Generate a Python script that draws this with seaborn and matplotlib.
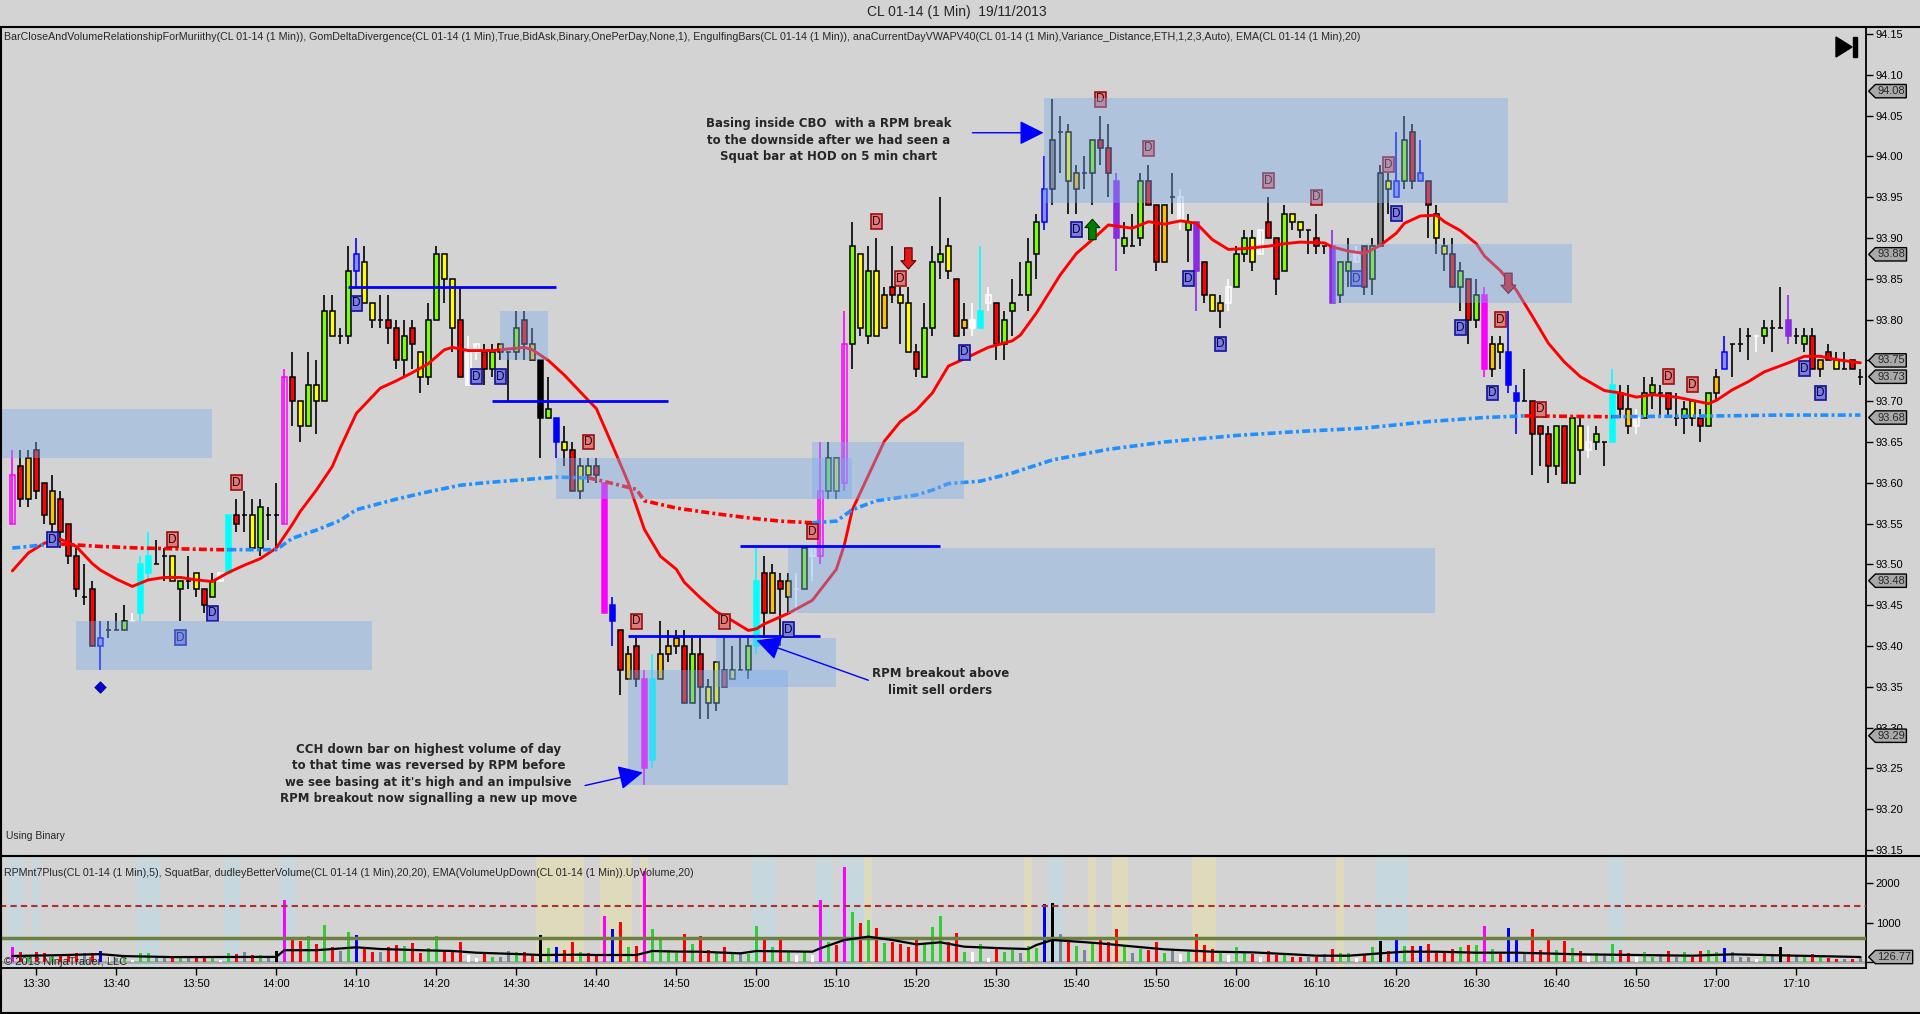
import numpy as np
import pandas as pd
import matplotlib
matplotlib.use("Agg")
import matplotlib.pyplot as plt
import matplotlib.transforms as mtransforms
from matplotlib.path import Path
from matplotlib.patches import Polygon, Rectangle
from matplotlib.lines import Line2D
import seaborn as sns

# one bar per minute, first bar 13:27, last bar 17:18
# prices are cents above 93.00
opens = [55, 62, 58, 64, 60, 55, 58, 55, 51, 46,
         47, 40, 42, 42, 42, 43, 44, 49, 50, 51,
         51, 47, 48, 49, 47, 46, 48, 49, 56, 56,
         56, 52, 56, 56, 55, 73, 70, 67, 72, 70,
         81, 78, 78, 86, 87, 82, 80, 80, 79, 75,
         79, 76, 73, 80, 88, 85, 80, 72, 76, 76,
         74, 76, 76, 76, 80, 77, 75, 68, 68, 65,
         64, 59, 62, 62, 60, 45, 42, 36, 40, 36,
         26, 36, 39, 40, 40, 33, 39, 33, 33, 37,
         36, 37, 37, 40, 49, 44, 48, 46, 47, 47,
         51, 51, 59, 63, 60, 77, 88, 78, 86, 79,
         84, 83, 82, 76, 73, 79, 87, 89, 85, 79,
         80, 79, 82, 82, 77, 81, 83, 83, 88, 92,
         96, 103, 103, 96, 98, 98, 102, 101, 97, 89,
         89, 90, 97, 94, 87, 95, 92, 91, 92, 87,
         83, 81, 82, 84, 88, 90, 88, 92, 90, 86,
         93, 92, 91, 90, 89, 89, 83, 86, 87, 89,
         85, 89, 96, 95, 97, 103, 97, 97, 93, 89,
         88, 84, 85, 80, 83, 74, 77, 76, 71, 70,
         70, 67, 66, 62, 67, 60, 67, 64, 65, 65,
         65, 71, 69, 67, 68, 71, 71, 71, 68, 68,
         70, 68, 67, 71, 74, 77, 77, 78, 78, 78,
         79, 79, 80, 78, 77, 78, 74, 76, 75, 74,
         75, 73]
highs = [64, 64, 64, 65, 60, 61, 59, 55, 52, 50,
         48, 43, 43, 44, 45, 44, 51, 54, 53, 52,
         51, 48, 51, 49, 47, 49, 49, 56, 58, 59,
         58, 58, 57, 60, 74, 76, 70, 76, 75, 83,
         83, 79, 89, 90, 89, 82, 83, 83, 80, 80,
         80, 76, 82, 89, 88, 85, 84, 78, 77, 77,
         77, 77, 76, 81, 81, 79, 75, 73, 68, 67,
         65, 63, 63, 63, 60, 46, 42, 40, 41, 37,
         39, 43, 42, 42, 42, 41, 41, 36, 38, 41,
         40, 41, 41, 52, 51, 50, 49, 49, 49, 52,
         52, 65, 65, 63, 81, 92, 88, 89, 90, 84,
         89, 84, 84, 77, 82, 89, 95, 90, 85, 82,
         82, 89, 84, 82, 81, 85, 87, 90, 93, 100,
         107, 105, 104, 99, 100, 102, 105, 104, 98, 92,
         93, 98, 99, 94, 94, 98, 96, 93, 92, 87,
         83, 83, 85, 89, 91, 91, 91, 95, 90, 94,
         93, 92, 91, 93, 89, 91, 87, 90, 89, 89,
         90, 99, 98, 103, 105, 104, 102, 97, 94, 90,
         90, 87, 85, 85, 84, 78, 78, 81, 72, 74,
         70, 67, 67, 67, 67, 68, 68, 67, 67, 65,
         74, 72, 72, 69, 73, 73, 72, 71, 71, 70,
         70, 69, 71, 74, 78, 77, 79, 79, 78, 80,
         80, 84, 83, 79, 79, 79, 75, 77, 76, 76,
         75, 74]
lows = [55, 57, 57, 58, 55, 54, 52, 50, 46, 45,
        40, 37, 41, 42, 42, 43, 43, 48, 50, 48,
        48, 43, 47, 46, 44, 46, 48, 49, 54, 54,
        52, 51, 53, 52, 55, 67, 65, 67, 66, 70,
        78, 77, 77, 84, 82, 79, 79, 77, 74, 73,
        74, 71, 72, 80, 82, 76, 73, 72, 75, 72,
        73, 75, 70, 75, 75, 75, 63, 68, 63, 62,
        59, 58, 60, 60, 44, 40, 34, 36, 35, 23,
        25, 36, 38, 39, 33, 33, 31, 31, 32, 35,
        36, 37, 36, 39, 41, 44, 40, 44, 44, 47,
        48, 50, 58, 58, 59, 74, 78, 77, 78, 79,
        82, 77, 76, 73, 73, 78, 85, 85, 78, 78,
        78, 79, 81, 75, 75, 78, 83, 81, 85, 91,
        94, 98, 93, 93, 96, 94, 99, 95, 86, 88,
        89, 89, 94, 86, 87, 93, 91, 87, 81, 82,
        81, 79, 81, 84, 87, 86, 88, 90, 83, 86,
        91, 90, 88, 88, 88, 82, 82, 84, 87, 83,
        83, 89, 93, 95, 96, 96, 97, 90, 88, 86,
        84, 81, 77, 79, 73, 73, 74, 71, 66, 70,
        61, 62, 60, 61, 60, 60, 61, 63, 64, 62,
        65, 68, 66, 66, 68, 69, 68, 68, 67, 66,
        67, 65, 67, 70, 74, 73, 76, 75, 76, 77,
        76, 79, 77, 77, 76, 74, 73, 75, 74, 74,
        74, 72]
closes = [61, 58, 63, 59, 56, 59, 54, 51, 47, 46,
          40, 41, 42, 42, 43, 43, 50, 51, 50, 51,
          48, 48, 48, 47, 45, 48, 49, 56, 55, 56,
          52, 57, 56, 56, 73, 70, 67, 72, 70, 81,
          78, 78, 86, 88, 82, 80, 80, 79, 75, 78,
          77, 73, 80, 88, 85, 79, 73, 76, 77, 74,
          76, 77, 76, 79, 77, 75, 68, 69, 65, 64,
          59, 62, 61, 61, 44, 43, 37, 39, 36, 25,
          36, 39, 40, 41, 33, 39, 35, 35, 38, 35,
          37, 37, 40, 48, 44, 49, 47, 48, 47, 52,
          52, 59, 63, 59, 77, 89, 79, 86, 78, 83,
          83, 82, 76, 74, 79, 87, 88, 86, 78, 80,
          79, 81, 83, 77, 80, 82, 83, 87, 92, 96,
          102, 103, 97, 98, 98, 102, 101, 98, 90, 90,
          89, 97, 94, 87, 94, 95, 95, 92, 86, 83,
          81, 82, 84, 88, 90, 87, 91, 90, 85, 93,
          92, 91, 91, 89, 89, 82, 87, 87, 88, 84,
          89, 98, 97, 97, 102, 97, 98, 94, 90, 88,
          84, 86, 80, 83, 74, 77, 76, 72, 70, 70,
          66, 66, 62, 67, 60, 68, 64, 65, 66, 65,
          72, 69, 67, 68, 71, 72, 71, 69, 68, 69,
          68, 67, 71, 73, 76, 77, 77, 78, 78, 79,
          79, 79, 78, 78, 78, 74, 75, 75, 74, 74,
          74, 73]
candle_colors = ("Mrgrrgrrrk" "rBkklwaakk" "ylkyrlwark" "ylkkMrylyl"
                 "yklByykrrl" "ryllyyrwwr" "lgklrgklby" "ryyrmbrgrm"
                 "agggrlryyr" "yklargrgwl" "wMlyMlylyg" "ryyrlllyrg"
                 "wawrllkllB" "ekygklrrpl" "klrrgkwlpr" "ygwllywrrl"
                 "yykrkpllwr" "leyBlrBryy" "rlrlmgybbk" "rrrlrlywlk"
                 "argwllkrkl" "yrlgBkkkwl" "kkpklrgryk" "rk")

volumes = [373, 246, 160, 246, 229, 190, 203, 203, 237, 220,
           237, 288, 120, 100, 110, 60, 220, 220, 110, 110,
           100, 160, 160, 90, 90, 120, 60, 220, 200, 250,
           170, 170, 120, 290, 1575, 576, 533, 660, 449, 940,
           373, 280, 770, 686, 347, 262, 262, 389, 432, 406,
           491, 220, 347, 660, 288, 288, 517, 178, 93, 203,
           135, 118, 288, 262, 262, 178, 686, 364, 389, 305,
           517, 262, 220, 178, 1168, 830, 1025, 389, 406, 2300,
           838, 584, 305, 220, 711, 457, 660, 305, 245, 381,
           195, 245, 195, 915, 643, 381, 584, 262, 178, 279,
           178, 1575, 500, 432, 2405, 1261, 982, 1067, 864, 483,
           500, 449, 381, 559, 474, 897, 1168, 517, 728, 254,
           254, 449, 110, 347, 254, 305, 237, 406, 364, 1465,
           1490, 711, 584, 406, 305, 500, 584, 500, 838, 415,
           220, 330, 305, 500, 220, 279, 195, 262, 711, 432,
           322, 262, 178, 381, 262, 212, 135, 279, 178, 178,
           135, 118, 135, 118, 195, 330, 220, 220, 93, 203,
           373, 533, 279, 559, 406, 406, 406, 457, 279, 246,
           330, 373, 432, 432, 915, 330, 203, 855, 576, 246,
           830, 305, 576, 305, 533, 347, 279, 152, 220, 152,
           449, 305, 220, 118, 246, 135, 195, 279, 135, 246,
           135, 279, 305, 246, 347, 246, 135, 135, 68, 152,
           195, 373, 203, 178, 135, 203, 118, 110, 76, 76,
           76, 135]
volume_colors = ("mrgrrgrrre" "rbwegwggee" "rgerrgwgre" "rgekmrrgrg"
                 "regbrrerrg" "rrggrrrwwr" "geegrrkgbr" "rgrrmbrgrm"
                 "ggggrgrrgr" "geggrgrgwg" "wmgrmgrgrg" "rrrrgggrrg"
                 "wgwrggeggb" "kergegrrrg" "egrrgewgrr" "rgwggrwrrg"
                 "rrererggwr" "gkrbgrbrrr" "rgrgmgrbbe" "rrrgrgrwge"
                 "grrwggereg" "rrggbeeewg" "ekregrgrre" "re")

# EMA(20) of close, read at bar index
ema_k = [0, 2, 4, 6, 8, 10, 11, 13, 15, 17, 19, 21, 23, 25, 27, 29, 31, 33, 35, 36,
         38, 40, 41, 43, 46, 48, 50, 52, 54, 55, 57, 60, 62, 64, 65, 67, 69, 72, 73, 75,
         77, 79, 81, 83, 84, 86, 88, 90, 92, 93, 94, 97, 100, 103, 104, 105, 107, 109, 111, 113,
         115, 117, 119, 122, 125, 126, 128, 131, 133, 135, 137, 140, 142, 144, 146, 148, 150, 152, 154, 157,
         159, 161, 164, 165, 167, 169, 171, 173, 174, 176, 178, 179, 181, 183, 184, 186, 188, 190, 192, 194,
         196, 199, 201, 203, 205, 208, 210, 212, 213, 215, 217, 219, 222, 224, 226, 228, 231]
ema_v = [93.492, 93.514, 93.526, 93.531, 93.522, 93.501, 93.493, 93.482, 93.473, 93.481,
         93.484, 93.484, 93.481, 93.479, 93.490, 93.499, 93.507, 93.520, 93.549, 93.565,
         93.591, 93.620, 93.643, 93.685, 93.716, 93.725, 93.735, 93.746, 93.763, 93.766,
         93.762, 93.762, 93.764, 93.766, 93.763, 93.750, 93.732, 93.701, 93.691, 93.646,
         93.600, 93.543, 93.510, 93.494, 93.478, 93.459, 93.442, 93.431, 93.419, 93.421,
         93.427, 93.440, 93.456, 93.494, 93.524, 93.567, 93.609, 93.651, 93.675, 93.689,
         93.710, 93.743, 93.752, 93.766, 93.774, 93.781, 93.808, 93.855, 93.881, 93.898,
         93.916, 93.912, 93.920, 93.917, 93.921, 93.918, 93.898, 93.886, 93.887, 93.890,
         93.893, 93.895, 93.894, 93.889, 93.884, 93.881, 93.891, 93.906, 93.918, 93.927,
         93.928, 93.920, 93.909, 93.893, 93.878, 93.860, 93.836, 93.804, 93.771, 93.748,
         93.730, 93.713, 93.710, 93.705, 93.708, 93.705, 93.701, 93.697, 93.701, 93.714,
         93.724, 93.736, 93.747, 93.755, 93.755, 93.751, 93.747]

# session VWAP, read at bar index; colour switches at vwap_breaks
vwap_k = [0, 5, 6, 11, 16, 26, 27, 33, 35, 38, 41, 43, 48, 52, 56, 59, 68, 72, 73, 78,
          79, 83, 88, 92, 96, 100, 103, 105, 108, 113, 115, 117, 121, 125, 130, 137, 144, 153, 161, 169,
          177, 184, 189, 199, 200, 214, 221, 231]
vwap_v = [93.520, 93.525, 93.525, 93.522, 93.520, 93.518, 93.518, 93.518, 93.532, 93.542,
          93.554, 93.567, 93.580, 93.589, 93.597, 93.600, 93.607, 93.606, 93.604, 93.592,
          93.578, 93.569, 93.562, 93.557, 93.553, 93.551, 93.553, 93.567, 93.578, 93.585,
          93.591, 93.599, 93.602, 93.612, 93.628, 93.641, 93.650, 93.658, 93.663, 93.667,
          93.675, 93.680, 93.682, 93.681, 93.681, 93.682, 93.683, 93.683]
vwap_breaks = [0, 6, 27, 72, 100, 189, 200, 231]

# EMA of up volume
vema_k = [0, 6, 11, 14, 20, 33, 34, 38, 43, 46, 51, 55, 58, 63, 66, 71, 73, 78, 80, 83,
          86, 91, 93, 100, 101, 104, 107, 110, 113, 116, 119, 124, 127, 128, 130, 132, 136, 139, 144, 150,
          155, 160, 163, 167, 171, 174, 178, 183, 188, 196, 203, 210, 215, 223, 231]
vema_v = [152, 175, 200, 150, 125, 130, 300, 300, 373, 330, 300, 280, 237, 203, 178, 186, 178, 178, 280, 265,
          262, 220, 279, 262, 347, 559, 643, 559, 449, 500, 389, 347, 330, 432, 559, 533, 474, 415, 322, 262,
          245, 195, 161, 160, 220, 262, 262, 237, 237, 195, 178, 161, 195, 161, 127]

# zones (bar index from/to, price low/high)
zone_from = [-1.54, 8.0, 61.0, 68.0, 100.0, 97.0, 88.0, 77.0, 129.0, 165.0]
zone_to = [25.0, 45.0, 67.0, 105.0, 119.0, 177.8, 103.0, 97.0, 187.0, 195.0]
zone_low = [93.63, 93.37, 93.75, 93.58, 93.58, 93.44, 93.35, 93.23, 93.943, 93.82]
zone_high = [93.69, 93.43, 93.81, 93.63, 93.65, 93.52, 93.41, 93.37, 94.072, 93.893]

level_price = [93.84, 93.70, 93.523, 93.412]
level_from = [42, 60, 91, 77]
level_to = [68, 82, 116, 101]

red_d_k = [20, 28, 72, 78, 89, 100, 108, 111, 136, 142, 157, 163, 172, 186, 191, 207, 210]
red_d_p = [93.53, 93.60, 93.65, 93.43, 93.43, 93.54, 93.92, 93.85, 94.07, 94.01, 93.97, 93.95,
           93.99, 93.80, 93.69, 93.73, 93.72]
blue_d_k = [5, 21, 25, 43, 58, 61, 97, 119, 133, 147, 151, 168, 173, 181, 185, 224, 226]
blue_d_p = [93.53, 93.41, 93.44, 93.82, 93.73, 93.73, 93.42, 93.76, 93.91, 93.85, 93.77, 93.85,
            93.93, 93.79, 93.71, 93.74, 93.71]

price_tags = [94.08, 93.88, 93.75, 93.73, 93.68, 93.48, 93.29]
volume_tag = 126.77
time_labels = ['13:30', '13:40', '13:50', '14:00', '14:10', '14:20', '14:30', '14:40', '14:50',
               '15:00', '15:10', '15:20', '15:30', '15:40', '15:50', '16:00', '16:10', '16:20',
               '16:30', '16:40', '16:50', '17:00', '17:10']
first_bar = '13:27'

shade_blue = [(0, 1), (3, 3), (16, 18), (27, 28), (34, 35), (93, 95), (101, 102), (104, 106),
              (130, 131), (171, 174), (200, 201)]
shade_yellow = [(66, 71), (74, 77), (79, 79), (107, 107), (127, 127), (135, 135), (138, 139),
                (148, 150), (166, 166)]

BG = '#D3D3D3'
W, H = 1920, 1014


def to_price(v):
    return 93 + np.asarray(v, dtype=float) / 100


def minute_of(s):
    hh, mm = s.split(':')
    return int(hh) * 60 + int(mm)


def tag_box(x0, y0, width, height, mutation_size):
    pad = 0.15 * mutation_size
    x0, y0 = x0 - pad, y0 - pad
    x1, y1 = x0 + width + 2 * pad, y0 + height + 2 * pad
    tip = x0 - (y1 - y0) / 2
    return Path([(x0, y0), (x1, y0), (x1, y1), (x0, y1), (tip, (y0 + y1) / 2), (x0, y0)], closed=True)


def main():
    sns.set_style('white', {'axes.facecolor': BG, 'figure.facecolor': BG})
    plt.rcParams['font.family'] = ['Liberation Sans', 'DejaVu Sans']

    n = len(opens)
    k = np.arange(n)
    o, hi, lo, c = to_price(opens), to_price(highs), to_price(lows), to_price(closes)

    fig = plt.figure(figsize=(19.2, 10.14), dpi=100, facecolor=BG)
    ax = fig.add_axes([0, 1 - 856 / H, 1866 / W, (856 - 27) / H])
    axv = fig.add_axes([0, 1 - 968 / H, 1866 / W, (968 - 856) / H], sharex=ax)
    for a in (ax, axv):
        a.set_facecolor(BG)
        for sp in a.spines.values():
            sp.set_color('black')
            sp.set_linewidth(1.3)

    # candles
    fills = {'r': '#FF0000', 'y': '#FFFF00', 'g': '#FFC000', 'l': '#7FFF00', 'k': '#000000',
             'w': '#FFFFFF', 'a': '#00FFFF', 'm': '#FF00FF', 'M': 'none', 'b': '#0000FF',
             'B': '#8C8CFF', 'p': '#8A2BE2', 'e': '#808080'}
    own_edge = {'a': '#00FFFF', 'm': '#FF00FF', 'M': '#FF00FF', 'b': '#0000FF', 'B': '#0000FF',
                'p': '#8A2BE2', 'w': '#FFFFFF'}
    body_fc, body_ec, wick_c = [], [], []
    for i, code in enumerate(candle_colors):
        fc = fills[code]
        if code == 'w' and closes[i] > opens[i]:
            fc = 'none'
        body_fc.append(fc)
        body_ec.append(own_edge.get(code, '#000000'))
        wick_c.append(own_edge.get(code, '#000000'))
    ax.vlines(k, lo, hi, colors=wick_c, linewidth=1.2, zorder=3)
    ax.bar(k, c - o, bottom=o, width=0.62, color=body_fc, edgecolor=body_ec, linewidth=1.1, zorder=3.5)

    # EMA and VWAP
    sns.lineplot(x=ema_k, y=ema_v, ax=ax, color='#FF0000', linewidth=2.1, legend=False, zorder=4)
    vw = pd.DataFrame({'k': vwap_k, 'v': vwap_v})
    for i in range(len(vwap_breaks) - 1):
        seg = vw[(vw.k >= vwap_breaks[i]) & (vw.k <= vwap_breaks[i + 1])]
        col = '#1E90FF' if i % 2 == 0 else '#FF0000'
        sns.lineplot(x=seg['k'].values, y=seg['v'].values, ax=ax, color=col, linewidth=2.6,
                     linestyle=(0, (2.2, 0.9, 0.8, 0.9)), legend=False, zorder=4)

    # support / resistance lines
    ax.hlines(level_price, level_from, level_to, colors='#0000FF', linewidth=2, zorder=5)

    # D markers
    for kk, pp in zip(red_d_k, red_d_p):
        ax.text(kk, pp, 'D', ha='center', va='center', fontsize=8.5, color='#300000', zorder=5,
                bbox=dict(boxstyle='square,pad=0.12', fc='#E07A7A', ec='#9A1010', lw=1.2))
    for kk, pp in zip(blue_d_k, blue_d_p):
        ax.text(kk, pp, 'D', ha='center', va='center', fontsize=8.5, color='#000030', zorder=5,
                bbox=dict(boxstyle='square,pad=0.12', fc='#7C7CE0', ec='#10109A', lw=1.2))

    # signal arrows and diamond
    sig = 'simple,head_length=0.5,head_width=0.9,tail_width=0.45'
    ax.annotate('', xy=(112, 93.862), xytext=(112, 93.888),
                arrowprops=dict(arrowstyle=sig, fc='#E01818', ec='#600000', lw=0.8, mutation_scale=12,
                                shrinkA=0, shrinkB=0), zorder=5)
    ax.annotate('', xy=(187, 93.832), xytext=(187, 93.857),
                arrowprops=dict(arrowstyle=sig, fc='#E01818', ec='#600000', lw=0.8, mutation_scale=12,
                                shrinkA=0, shrinkB=0), zorder=5)
    ax.annotate('', xy=(135, 93.923), xytext=(135, 93.898),
                arrowprops=dict(arrowstyle=sig, fc='#008000', ec='#003000', lw=0.8, mutation_scale=12,
                                shrinkA=0, shrinkB=0), zorder=5)
    sns.scatterplot(x=[11], y=[93.35], ax=ax, marker='D', s=35, color='#0000CD', edgecolor='#000080',
                    legend=False, zorder=5)

    # zones on top, translucent
    for x0, x1, p0, p1 in zip(zone_from, zone_to, zone_low, zone_high):
        ax.add_patch(Rectangle((x0, p0), x1 - x0, p1 - p0, fc='#7BADEE', alpha=0.4, lw=0, zorder=6))

    # notes
    note_font = dict(family='DejaVu Sans', fontsize=8.5, fontweight='bold', ha='center', va='center',
                     linespacing=1.35, zorder=7)
    ax.text(102, 94.020, "Basing inside CBO  with a RPM break\nto the downside after we had seen a\n"
            "Squat bar at HOD on 5 min chart", **note_font)
    ax.text(116, 93.356, "RPM breakout above\nlimit sell orders", **note_font)
    ax.text(52, 93.243, "CCH down bar on highest volume of day\nto that time was reversed by RPM before\n"
            "we see basing at it's high and an impulsive\nRPM breakout now signalling a new up move",
            **note_font)
    arrow_kw = dict(arrowstyle='-|>,head_length=1.0,head_width=0.5', color='#0000FF', lw=1,
                    mutation_scale=15, shrinkA=0, shrinkB=0)
    ax.annotate('', xy=(128.9, 94.029), xytext=(120, 94.029), arrowprops=arrow_kw, zorder=7)
    ax.annotate('', xy=(93, 93.407), xytext=(107, 93.358), arrowprops=arrow_kw, zorder=7)
    ax.annotate('', xy=(78.8, 93.245), xytext=(71.6, 93.229), arrowprops=arrow_kw, zorder=7)

    ax.text(0.002, 0.988, "BarCloseAndVolumeRelationshipForMuriithy(CL 01-14 (1 Min)), "
            "GomDeltaDivergence(CL 01-14 (1 Min),True,BidAsk,Binary,OnePerDay,None,1), "
            "EngulfingBars(CL 01-14 (1 Min)), anaCurrentDayVWAPV40(CL 01-14 (1 Min),Variance_Distance,"
            "ETH,1,2,3,Auto), EMA(CL 01-14 (1 Min),20)", transform=ax.transAxes, fontsize=7.7,
            va='center', ha='left')
    ax.text(0.003, 0.024, "Using Binary", transform=ax.transAxes, fontsize=7.5, va='center', ha='left')

    ax.set_xlim(-1.54, 231.7)
    ax.set_ylim(93.1426, 94.1586)
    ticks = np.round(np.arange(93.15, 94.151, 0.05), 2)
    ax.set_yticks(ticks)
    # the tag for 93.75 sits right on its tick label
    ax.set_yticklabels(['' if any(abs(t - p) < 0.001 for p in price_tags) else f'{t:.2f}' for t in ticks])
    ax.tick_params(axis='y', which='both', left=False, right=True, labelleft=False, labelright=True,
                   direction='out', length=5, width=1, labelsize=8, pad=2, colors='black')
    ax.tick_params(axis='x', bottom=False, labelbottom=False, top=False)
    ax.set_xlabel('')
    ax.set_ylabel('')

    tag_tr = mtransforms.offset_copy(mtransforms.blended_transform_factory(ax.transAxes, ax.transData),
                                     fig=fig, x=11, y=0, units='dots')
    for p in price_tags:
        ax.text(1.0, p, f'{p:.2f}', transform=tag_tr, ha='left', va='center', fontsize=8, clip_on=False,
                zorder=8, bbox=dict(boxstyle=tag_box, fc='#A9A9A9', ec='black', lw=1))

    # volume panel
    for a0, a1 in shade_blue:
        axv.axvspan(a0 - 0.5, a1 + 0.5, color='#C6D7DE', lw=0, zorder=0)
    for a0, a1 in shade_yellow:
        axv.axvspan(a0 - 0.5, a1 + 0.5, color='#DEDABC', lw=0, zorder=0)
    axv.axhline(0, color='#A8A8A8', lw=2, zorder=1)
    vcols = {'r': '#FF0000', 'g': '#32CD32', 'e': '#778899', 'w': '#FFFFFF', 'k': '#000000',
             'b': '#0000FF', 'm': '#FF00FF'}
    axv.bar(k, volumes, width=0.42, color=[vcols[v] for v in volume_colors], lw=0, zorder=2)
    axv.axhline(1420, color='#B03030', ls=(0, (3, 2)), lw=1.5, zorder=3)
    axv.axhline(600, color='#6E8040', lw=2.5, zorder=3)
    sns.lineplot(x=vema_k, y=vema_v, ax=axv, color='black', linewidth=1.6, legend=False, zorder=4)
    axv.text(0.002, 0.85, "RPMnt7Plus(CL 01-14 (1 Min),5), SquatBar, dudleyBetterVolume(CL 01-14 (1 Min),20,20), "
             "EMA(VolumeUpDown(CL 01-14 (1 Min)).UpVolume,20)", transform=axv.transAxes, fontsize=7.7,
             va='center', ha='left')
    axv.text(0.002, 0.05, "\u00a9 2013 NinjaTrader, LLC", transform=axv.transAxes, fontsize=8,
             va='center', ha='left', zorder=5)
    axv.set_ylim(-152, 2692)
    axv.set_yticks([0, 1000, 2000])
    # the zero label is hidden under the last-value tag
    axv.set_yticklabels(['', '1000', '2000'])
    axv.tick_params(axis='y', left=False, right=True, labelleft=False, labelright=True,
                    direction='out', length=5, width=1, labelsize=8, pad=2, colors='black')
    start = minute_of(first_bar)
    axv.set_xticks([minute_of(t) - start for t in time_labels])
    axv.set_xticklabels(time_labels)
    axv.tick_params(axis='x', bottom=True, labelbottom=True, direction='out', length=5, width=1,
                    labelsize=8, pad=3, colors='black')
    axv.set_xlabel('')
    axv.set_ylabel('')
    vtag_tr = mtransforms.offset_copy(mtransforms.blended_transform_factory(axv.transAxes, axv.transData),
                                      fig=fig, x=11, y=0, units='dots')
    axv.text(1.0, volume_tag, f'{volume_tag:.2f}', transform=vtag_tr, ha='left', va='center', fontsize=8,
             clip_on=False, zorder=8, bbox=dict(boxstyle=tag_box, fc='#A9A9A9', ec='black', lw=1))
    axv.set_xlim(-1.54, 231.7)

    # window frame and title
    fig.text(957 / W, 1 - 12 / H, 'CL 01-14 (1 Min)  19/11/2013', ha='center', va='center', fontsize=10)
    for yy in (27, 856, 1013):
        fig.add_artist(Line2D([0, 1], [1 - yy / H] * 2, transform=fig.transFigure, color='black', lw=1.5))
    fig.add_artist(Line2D([0.0005, 0.0005], [1 - 27 / H, 1 - 1013 / H], transform=fig.transFigure,
                          color='black', lw=1.5))
    fig.add_artist(Polygon([(1836 / W, 1 - 37 / H), (1836 / W, 1 - 57 / H), (1852 / W, 1 - 47 / H)],
                           closed=True, transform=fig.transFigure, color='black'))
    fig.add_artist(Rectangle((1853 / W, 1 - 57 / H), 4 / W, 20 / H, transform=fig.transFigure, color='black'))

    fig.savefig('out.png', dpi=100, facecolor=BG)


if __name__ == '__main__':
    main()
